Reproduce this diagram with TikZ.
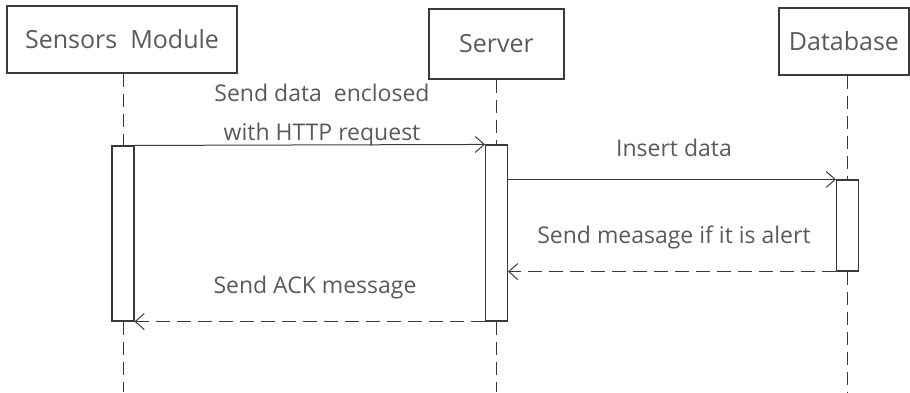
\documentclass[tikz,border=0pt]{standalone}
\usepackage{fontspec}
\setmainfont{Open Sans}
\usetikzlibrary{arrows.meta}
\definecolor{ink}{HTML}{3A3A3A}
\definecolor{txt}{HTML}{5A5A5A}
\tikzset{
  actor/.style={draw=ink, line width=1.1pt, fill=white, inner sep=0pt},
  activation/.style={draw=ink, line width=1.1pt, fill=white, minimum width=22pt, inner sep=0pt},
  lifeline/.style={draw=ink, line width=1pt, dash pattern=on 13pt off 7pt},
  call/.style={draw=ink, line width=1pt, -{Straight Barb[length=9pt,width=16pt]}},
  reply/.style={call, dash pattern=on 14pt off 7pt},
  msg/.style={text=txt, font=\fontsize{23}{26}\selectfont, inner sep=0pt},
  title/.style={text=txt, font=\fontsize{25}{28}\selectfont}
}
\begin{document}
\begin{tikzpicture}[x=1pt,y=-1pt]
\useasboundingbox (0,0) rectangle (910,393);

% participants
\node[actor, minimum width=230pt, minimum height=67pt, title] (sm) at (122,39.5) {Sensors\ \ Module};
\node[actor, minimum width=135pt, minimum height=70pt, title] (sv) at (496.5,44) {Server};
\node[actor, minimum width=130pt, minimum height=67pt, title] (db) at (844,41.5) {Database};

% activation bars
\node[activation, minimum height=175pt] (smAct) at (123,233.5) {};
\node[activation, minimum height=176pt] (svAct) at (496.5,233) {};
\node[activation, minimum height=91pt] (dbAct) at (847.5,225.5) {};

% lifeline ends
\coordinate (smEnd) at (123,392);
\coordinate (svEnd) at (496.5,392);
\coordinate (dbEnd) at (847.5,392);

% lifelines
\draw[lifeline] (sm.south -| smAct.north) -- (smAct.north);
\draw[lifeline] (smAct.south) -- (smEnd);
\draw[lifeline] (sv.south -| svAct.north) -- (svAct.north);
\draw[lifeline] (svAct.south) -- (svEnd);
\draw[lifeline] (db.south -| dbAct.north) -- (dbAct.north);
\draw[lifeline] (dbAct.south) -- (dbEnd);

% messages
\draw[call] (smAct.north east) -- (svAct.north west);
\draw[call] (svAct.east |- dbAct.north) -- (dbAct.north west);
\draw[reply] (dbAct.south west) -- (svAct.east |- dbAct.south);
\draw[reply] (svAct.south west) -- (smAct.south east);

% message labels
\node[msg] (l1a) at (322,93) {Send data\ \ enclosed};
\node[msg] (l1b) at (322,135) {with HTTP request};
\node[msg] (l2) at (674,148) {Insert data};
\node[msg] (l3) at (674,237) {Send measage if it is alert};
\node[msg] (l4) at (315,288) {Send ACK message};
\end{tikzpicture}
\end{document}
